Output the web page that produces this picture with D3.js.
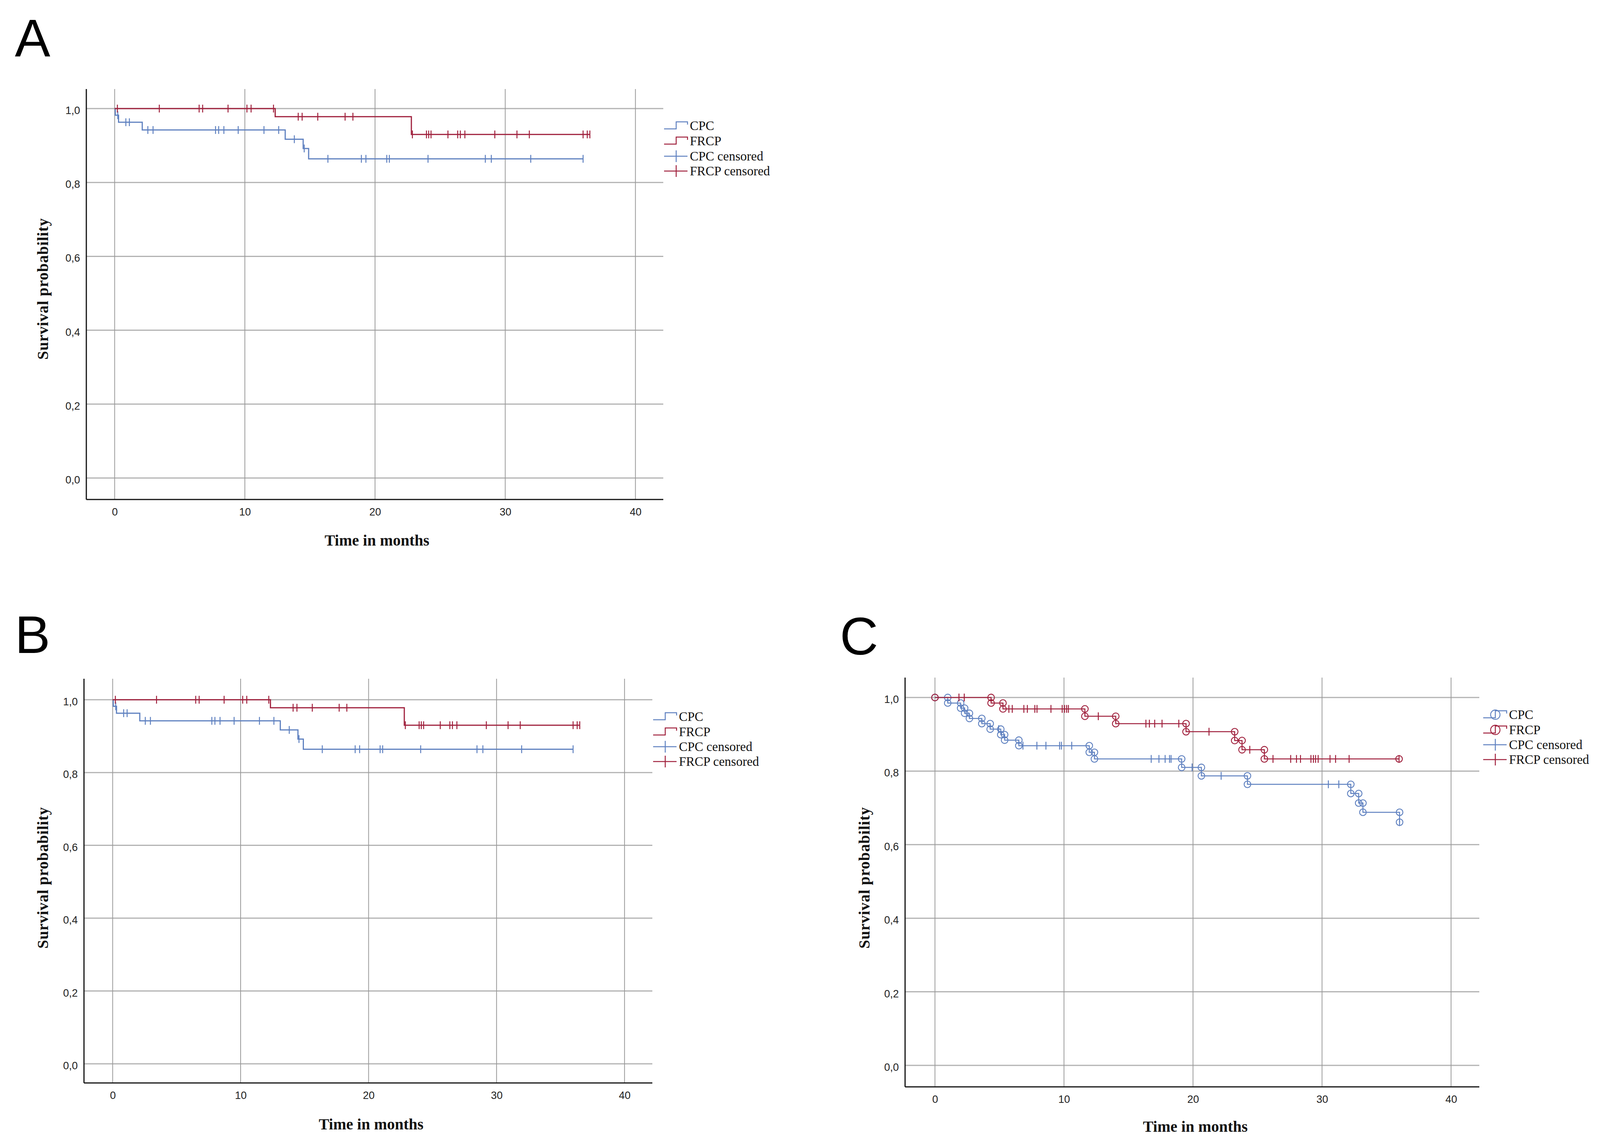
<!DOCTYPE html>
<html><head><meta charset="utf-8">
<script src="https://cdn.jsdelivr.net/npm/d3@7"></script>
<style>html,body{margin:0;padding:0;background:#fff;} svg{display:block;}</style>
</head><body>
<svg id="chart" width="4110" height="2937"></svg>
<script>
// ---------------- data ----------------
const xTicks = [0, 10, 20, 30, 40];
const yTicks = [0, 0.2, 0.4, 0.6, 0.8, 1.0];
const yTickLabels = ["0,0", "0,2", "0,4", "0,6", "0,8", "1,0"];
const legendLabels = ["CPC", "FRCP", "CPC censored", "FRCP censored"];
const panelLetters = ["A", "B", "C"];
const xTitle = "Time in months";
const yTitle = "Survival probability";

// Panels A and B (same data)
const cpcEventTimesAB = [0.05, 0.3, 2.12, 13.1, 14.48, 14.9];
const cpcSurvivalAB   = [0.982, 0.963, 0.942, 0.917, 0.892, 0.864];
const cpcCensorTimesAB = [0.24, 0.86, 1.13, 2.55, 2.95, 7.75, 7.99, 8.39, 9.49, 11.47, 12.6, 13.8, 14.56,
  16.38, 18.95, 19.3, 20.9, 21.1, 24.07, 28.47, 28.93, 31.96, 35.98];
const cpcEndAB = 35.98;
const frcpEventTimesAB = [12.33, 22.79];
const frcpSurvivalAB   = [0.978, 0.930];
const frcpCensorTimesAB = [0.21, 3.43, 6.49, 6.76, 8.71, 10.16, 10.48, 12.2, 14.1, 14.4, 15.6, 17.7, 18.3,
  22.87, 23.95, 24.12, 24.3, 25.6, 26.35, 26.55, 26.9, 29.2, 30.9, 31.85, 35.98, 36.3, 36.5];
const frcpEndAB = 36.5;

// Panel C
const cpcEventTimesC = [0.99, 1.99, 2.3, 2.67, 3.63, 4.28, 5.1, 5.4, 6.5, 11.96, 12.36, 19.12, 20.65, 24.22,
  32.23, 32.84, 33.17, 36.01];
const cpcSurvivalC   = [0.985, 0.971, 0.957, 0.943, 0.929, 0.914, 0.899, 0.884, 0.869, 0.851, 0.833, 0.810,
  0.787, 0.764, 0.739, 0.713, 0.688, 0.661];
const cpcCensorTimesC = [4.94, 6.82, 7.9, 8.6, 9.66, 9.8, 10.6, 16.76, 17.36, 17.84, 18.18, 18.3, 19.93, 22.18,
  30.49, 31.3, 36.01];
const cpcEndC = 36.01;
const frcpEventTimesC = [4.35, 5.27, 11.62, 14.01, 19.46, 23.23, 23.8, 25.53];
const frcpSurvivalC   = [0.985, 0.969, 0.949, 0.929, 0.907, 0.883, 0.858, 0.833];
const frcpCensorTimesC = [1.86, 2.27, 5.73, 5.99, 6.89, 7.16, 7.74, 7.91, 8.99, 9.86, 10.04, 10.2, 10.34, 12.66,
  16.35, 16.62, 17.03, 17.6, 18.9, 21.24, 24.4, 26.2, 27.57, 28.02, 28.33, 29.14, 29.33, 29.5, 29.7, 30.62,
  31.05, 32.1, 35.97];
const frcpEndC = 35.97;

// ---------------- styles ----------------
const BLUE = "#5f81c0";
const RED = "#a0213d";
const SANS = "'Liberation Sans', Arial, sans-serif";
const SERIF = "'Liberation Serif', 'Times New Roman', serif";

const svg = d3.select("#chart");
svg.append("rect").attr("width", 4110).attr("height", 2937).attr("fill", "#fff");

function survivalAt(t, times, vals) {
  let s = 1;
  for (let i = 0; i < times.length; i++) if (times[i] <= t) s = vals[i];
  return s;
}

function makeSeries(times, vals, censors, end, color) {
  return { times, vals, censors, end, color };
}

const seriesAB = [
  makeSeries(cpcEventTimesAB, cpcSurvivalAB, cpcCensorTimesAB, cpcEndAB, BLUE),
  makeSeries(frcpEventTimesAB, frcpSurvivalAB, frcpCensorTimesAB, frcpEndAB, RED)
];
const seriesC = [
  makeSeries(cpcEventTimesC, cpcSurvivalC, cpcCensorTimesC, cpcEndC, BLUE),
  makeSeries(frcpEventTimesC, frcpSurvivalC, frcpCensorTimesC, frcpEndC, RED)
];

const panels = [
  { letter: panelLetters[0], lx: 38, ly: 144, left: 221, right: 1698, top: 228, bottom: 1279,
    x0: 293.5, x40: 1626.7, y0: 1224, y1: 278, series: seriesAB, circles: false,
    yTitleX: 123, yTitleY: 740, xTitleX: 965, xTitleY: 1397, legX: 1700, legY: [322, 361, 400, 438] },
  { letter: panelLetters[1], lx: 38, ly: 1672, left: 215, right: 1670, top: 1738, bottom: 2773,
    x0: 288.4, x40: 1598.8, y0: 2724, y1: 1791.7, series: seriesAB, circles: false,
    yTitleX: 123, yTitleY: 2248, xTitleX: 950, xTitleY: 2892, legX: 1672, legY: [1835, 1874, 1912, 1950] },
  { letter: panelLetters[2], lx: 2150, ly: 1676, left: 2317, right: 3787, top: 1735, bottom: 2783,
    x0: 2393.5, x40: 3714.7, y0: 2728, y1: 1786, series: seriesC, circles: true,
    yTitleX: 2226, yTitleY: 2248, xTitleX: 3060, xTitleY: 2898, legX: 3797, legY: [1830, 1869, 1907, 1945] }
];

function drawPanel(p) {
  const x = d3.scaleLinear().domain([0, 40]).range([p.x0, p.x40]);
  const y = d3.scaleLinear().domain([0, 1]).range([p.y0, p.y1]);
  const g = svg.append("g");

  // grid
  g.selectAll("line.hg").data(yTicks).join("line").attr("class", "hg")
    .attr("x1", p.left).attr("x2", p.right)
    .attr("y1", d => y(d)).attr("y2", d => y(d))
    .attr("stroke", "#b2b2b2").attr("stroke-width", 3);
  g.selectAll("line.vg").data(xTicks).join("line").attr("class", "vg")
    .attr("x1", d => x(d)).attr("x2", d => x(d))
    .attr("y1", p.top).attr("y2", p.bottom)
    .attr("stroke", "#9a9a9a").attr("stroke-width", 2);

  // axis labels via d3 axes
  const ya = g.append("g").attr("transform", `translate(${p.left},0)`)
    .call(d3.axisLeft(y).tickValues(yTicks).tickSize(0).tickPadding(16)
      .tickFormat((d, i) => yTickLabels[i]));
  ya.select(".domain").remove();
  ya.selectAll("text").attr("font-family", SANS).attr("font-size", 27).attr("fill", "#222").attr("dy", "0.5em");

  const xa = g.append("g").attr("transform", `translate(0,${p.bottom})`)
    .call(d3.axisBottom(x).tickValues(xTicks).tickSize(0).tickPadding(22).tickFormat(d3.format("d")));
  xa.select(".domain").remove();
  xa.selectAll("text").attr("font-family", SANS).attr("font-size", 27).attr("fill", "#222");

  // axis lines
  g.append("line").attr("x1", p.left).attr("x2", p.left).attr("y1", p.top).attr("y2", p.bottom)
    .attr("stroke", "#111").attr("stroke-width", 3);
  g.append("line").attr("x1", p.left).attr("x2", p.right).attr("y1", p.bottom).attr("y2", p.bottom)
    .attr("stroke", "#111").attr("stroke-width", 3);

  // titles
  g.append("text").attr("x", p.xTitleX).attr("y", p.xTitleY).attr("text-anchor", "middle")
    .attr("font-family", SERIF).attr("font-weight", "bold").attr("font-size", 40).attr("fill", "#111")
    .text(xTitle);
  g.append("text").attr("transform", `translate(${p.yTitleX},${p.yTitleY}) rotate(-90)`)
    .attr("text-anchor", "middle")
    .attr("font-family", SERIF).attr("font-weight", "bold").attr("font-size", 40).attr("fill", "#111")
    .attr("textLength", 362).attr("lengthAdjust", "spacing")
    .text(yTitle);
  svg.append("text").attr("x", p.lx).attr("y", p.ly).attr("font-family", SANS).attr("font-size", 136)
    .attr("fill", "#000").text(p.letter);

  const line = d3.line().x(d => x(d[0])).y(d => y(d[1])).curve(d3.curveStepAfter);
  const sw = p.circles ? 2.5 : 3;

  p.series.forEach(s => {
    const pts = [[0, 1]].concat(s.times.map((t, i) => [t, s.vals[i]]));
    pts.push([s.end, s.vals[s.vals.length - 1]]);
    g.append("path").attr("d", line(pts)).attr("fill", "none")
      .attr("stroke", s.color).attr("stroke-width", sw);

    // censor ticks
    g.selectAll(null).data(s.censors).join("line")
      .attr("x1", d => x(d)).attr("x2", d => x(d))
      .attr("y1", d => y(survivalAt(d, s.times, s.vals)) - 10)
      .attr("y2", d => y(survivalAt(d, s.times, s.vals)) + 10)
      .attr("stroke", s.color).attr("stroke-width", 2.5);

    if (p.circles) {
      const verts = [[0, 1]];
      s.times.forEach((t, i) => {
        verts.push([t, i === 0 ? 1 : s.vals[i - 1]]);
        verts.push([t, s.vals[i]]);
      });
      if (s.end > s.times[s.times.length - 1]) verts.push([s.end, s.vals[s.vals.length - 1]]);
      g.selectAll(null).data(verts).join("circle")
        .attr("cx", d => x(d[0])).attr("cy", d => y(d[1])).attr("r", 8.5)
        .attr("fill", "none").attr("stroke", s.color).attr("stroke-width", 2.3);
    }
  });

  // legend
  const lg = g.append("g");
  const colors = [BLUE, RED, BLUE, RED];
  legendLabels.forEach((lab, i) => {
    const cy = p.legY[i], x0 = p.legX, c = colors[i];
    if (i < 2) {
      lg.append("path")
        .attr("d", `M${x0},${cy + 8}H${x0 + 31}V${cy - 10}H${x0 + 60}V${cy - 3}`)
        .attr("fill", "none").attr("stroke", c).attr("stroke-width", 2.5);
      if (p.circles) {
        lg.append("circle").attr("cx", x0 + 31).attr("cy", cy).attr("r", 12)
          .attr("fill", "none").attr("stroke", c).attr("stroke-width", 2.3);
      }
    } else {
      lg.append("line").attr("x1", x0).attr("x2", x0 + 60).attr("y1", cy).attr("y2", cy)
        .attr("stroke", c).attr("stroke-width", 2.5);
      lg.append("line").attr("x1", x0 + 31).attr("x2", x0 + 31).attr("y1", cy - 15).attr("y2", cy + 15)
        .attr("stroke", c).attr("stroke-width", 2.5);
    }
    lg.append("text").attr("x", x0 + 66).attr("y", cy + 11)
      .attr("font-family", SERIF).attr("font-size", 33).attr("fill", "#111").text(lab);
  });
}

panels.forEach(drawPanel);
</script>
</body></html>
